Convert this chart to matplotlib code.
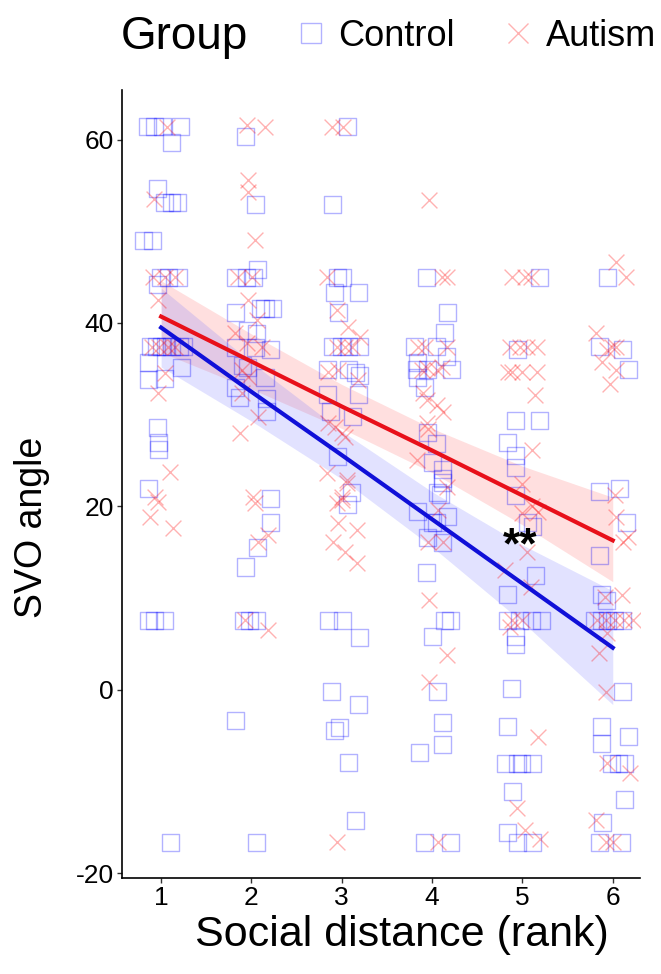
import matplotlib
matplotlib.use('Agg')
import matplotlib.pyplot as plt
from matplotlib.lines import Line2D

plt.rcParams['font.family'] = ['Liberation Sans', 'DejaVu Sans']
plt.rcParams['axes.unicode_minus'] = False

#
# jittered points: (rank + jitter, SVO angle)
#
control_x = [0.85, 0.93, 1.02, 1.21, 1.12, 0.96, 1.04, 1.12, 1.18, 0.80, 0.90, 0.99, 1.08, 1.19, 0.96,
             0.88, 0.95, 1.00, 1.05, 1.12, 1.20, 1.25, 0.86, 1.23, 1.04, 0.86, 0.96, 0.97, 0.97, 0.86,
             0.86, 0.93, 1.04, 1.10,
             1.93, 2.04, 2.07, 1.82, 1.95, 2.02, 2.10, 2.15, 2.23, 1.82, 1.96, 2.06, 1.82, 2.04, 2.21,
             1.90, 1.96, 2.15, 1.82, 1.87, 2.17, 2.17, 2.21, 2.21, 2.07, 1.93, 1.91, 1.98, 2.06, 1.82, 2.06,
             3.06, 2.90, 2.95, 3.01, 2.92, 3.18, 2.96, 2.90, 3.00, 3.07, 3.20, 2.84, 3.07, 3.15, 3.20,
             2.84, 3.18, 2.87, 3.12, 2.95, 3.11, 3.06, 2.85, 3.01, 3.20, 2.89, 3.18, 2.92, 2.98, 3.07, 3.15,
             3.94, 4.17, 4.14, 3.81, 4.05, 4.16, 3.84, 3.83, 3.95, 4.22, 3.84, 3.92, 3.95, 4.05, 4.00,
             4.12, 4.12, 4.06, 4.11, 4.09, 3.84, 4.17, 4.00, 4.05, 3.95, 4.12, 3.94, 4.14, 4.20, 4.00,
             4.06, 4.12, 3.86, 4.12, 3.92, 4.20,
             5.19, 4.95, 4.92, 5.19, 4.84, 4.92, 4.92, 4.92, 5.06, 5.11, 5.14, 4.83, 4.83, 4.97, 5.10,
             5.21, 4.92, 4.92, 4.88, 4.84, 4.81, 4.94, 4.99, 5.11, 4.89, 4.83, 4.95, 5.11,
             5.94, 5.85, 6.11, 6.17, 5.85, 6.08, 6.15, 5.85, 5.88, 5.93, 5.80, 5.88, 5.94, 6.02, 6.11,
             6.11, 5.88, 5.88, 6.17, 5.99, 6.06, 6.13, 6.13, 5.89, 5.85, 6.10]
control_y = [61.4, 61.4, 61.4, 61.4, 59.7, 54.7, 53.1, 53.1, 53.1, 49.0, 49.0, 45.0, 45.0, 45.0, 44.2,
             37.4, 37.4, 37.4, 37.4, 37.4, 37.4, 37.4, 35.7, 35.2, 34.0, 33.8, 28.6, 27.0, 26.2, 22.0,
             7.6, 7.6, 7.6, -16.6,
             60.3, 52.9, 45.8, 45.0, 45.0, 45.0, 41.6, 41.6, 41.6, 41.1, 39.2, 38.9, 37.3, 37.3, 37.1,
             35.4, 35.1, 34.1, 33.0, 31.9, 31.8, 30.3, 20.9, 18.2, 15.5, 13.4, 7.6, 7.6, 7.6, -3.3, -16.6,
             61.4, 52.9, 45.0, 45.0, 43.3, 43.3, 41.1, 37.4, 37.4, 37.4, 37.4, 34.9, 34.9, 34.6, 34.3,
             32.2, 32.2, 30.3, 29.8, 25.4, 21.5, 20.2, 7.6, 7.6, 5.7, -0.2, -1.6, -4.4, -4.1, -7.9, -14.2,
             45.0, 41.1, 39.0, 37.4, 37.4, 36.3, 35.7, 34.9, 34.9, 34.9, 34.1, 33.0, 28.1, 26.9, 24.8,
             24.0, 23.1, 21.5, 22.6, 21.3, 19.4, 18.9, 18.2, 18.2, 16.6, 16.1, 12.8, 7.6, 7.6, 5.8,
             -0.2, -3.6, -6.8, -6.0, -16.6, -16.6,
             45.0, 37.1, 29.4, 29.4, 27.0, 25.6, 24.2, 21.2, 18.3, 17.8, 12.5, 10.4, 7.6, 7.6, 7.6,
             7.6, 5.8, 4.9, 0.2, -4.0, -8.0, -8.0, -8.0, -8.0, -11.1, -15.5, -16.6, -16.6,
             45.0, 37.4, 37.1, 34.9, 21.6, 22.0, 18.2, 14.7, 10.4, 9.8, 7.6, 7.6, 7.6, 7.6, 7.6,
             -0.2, -4.0, -5.8, -5.1, -8.0, -8.0, -8.0, -12.0, -14.5, -16.6, -16.6]

autism_x = [1.07, 0.92, 0.91, 1.04, 1.15, 0.96, 0.90, 0.98, 1.08, 1.15, 1.04, 0.97, 1.10, 0.93, 0.96,
            0.88, 1.13,
            1.95, 2.15, 1.96, 1.96, 2.04, 1.85, 2.01, 1.96, 2.06, 1.82, 1.95, 2.12, 1.90, 1.96, 1.90,
            2.07, 1.87, 2.02, 2.04, 2.18, 2.07, 1.93, 2.18,
            2.89, 3.01, 2.84, 2.95, 3.07, 3.20, 2.95, 3.04, 3.11, 2.85, 2.96, 3.18, 2.85, 2.92, 3.00,
            3.04, 2.84, 3.06, 3.00, 3.06, 2.95, 3.00, 2.96, 3.17, 2.90, 3.04, 3.17, 2.95,
            3.97, 4.11, 4.16, 3.84, 3.92, 4.17, 3.89, 3.94, 4.05, 4.11, 3.90, 3.94, 4.05, 4.12, 3.94,
            3.95, 3.83, 4.17, 4.06, 3.95, 4.12, 3.97, 4.17, 3.97, 4.06,
            4.89, 5.03, 5.10, 4.86, 4.97, 5.05, 5.16, 4.84, 4.89, 5.00, 5.16, 5.14, 5.11, 4.99, 4.99,
            5.11, 5.17, 5.05, 4.81, 5.10, 4.88, 4.99, 4.86, 5.17, 4.94, 5.03, 5.19,
            6.04, 6.15, 5.82, 5.99, 6.04, 5.94, 5.88, 6.04, 5.97, 6.02, 6.04, 6.11, 6.17, 5.91, 6.10,
            5.83, 5.93, 6.02, 6.13, 6.22, 5.94, 5.85, 5.93, 5.94, 6.19, 5.82, 5.93, 6.00]
autism_y = [61.4, 53.5, 45.0, 45.0, 45.0, 42.5, 37.4, 37.4, 37.4, 37.4, 34.6, 32.4, 23.8, 21.0, 20.5,
            18.9, 17.7,
            61.6, 61.4, 55.6, 54.3, 49.0, 45.0, 45.0, 42.5, 40.3, 38.9, 37.8, 37.4, 34.9, 34.1, 32.4,
            29.8, 28.0, 21.0, 20.4, 16.9, 16.1, 7.6, 6.5,
            61.4, 61.4, 45.0, 41.4, 39.6, 38.5, 37.4, 37.4, 37.4, 34.7, 34.9, 33.8, 29.1, 28.7, 28.0,
            27.6, 23.7, 22.9, 21.0, 22.6, 20.4, 20.7, 18.2, 17.4, 16.1, 15.0, 13.8, -16.6,
            53.4, 45.0, 45.0, 37.4, 37.4, 37.4, 34.9, 35.1, 34.9, 35.2, 32.4, 31.6, 31.1, 30.3, 29.1,
            28.4, 25.1, 22.1, 19.6, 16.1, 16.1, 9.8, 3.8, 0.9, -16.6,
            45.0, 45.0, 45.0, 37.4, 37.4, 37.4, 37.4, 34.7, 34.7, 34.7, 34.7, 32.2, 26.2, 22.5, 19.3,
            20.0, 19.4, 15.0, 13.1, 11.2, 7.6, 7.6, 6.9, -5.1, -12.9, -15.3, -16.3,
            46.6, 45.0, 38.9, 37.4, 37.4, 37.1, 35.7, 34.9, 33.3, 21.2, 18.8, 16.1, 16.7, 10.1, 10.4,
            7.6, 7.6, 7.6, 7.6, 7.6, 6.2, 4.0, -0.2, -8.0, -9.1, -14.2, -16.6, -16.6]

#
# fitted lines and 95% bands read at each rank
#
fit_rank = [1, 2, 3, 4, 5, 6]
autism_fit = [40.7, 35.8, 30.9, 26.1, 21.2, 16.3]
autism_lo = [36.8, 32.8, 28.5, 23.7, 18.0, 11.8]
autism_hi = [44.6, 38.8, 33.3, 28.5, 24.4, 21.0]
control_fit = [39.5, 32.5, 25.6, 18.6, 11.6, 4.6]
control_lo = [35.2, 29.3, 23.0, 15.6, 7.4, -1.6]
control_hi = [43.8, 35.7, 28.2, 21.6, 15.8, 10.8]

blue = '#0000ff'
red = '#ff0000'

fig = plt.figure(figsize=(6.61, 9.74), dpi=100)
ax = fig.add_axes([0.185, 0.0986, 0.783, 0.809])

ax.fill_between(fit_rank, autism_lo, autism_hi, color='#ff7070', alpha=0.22, lw=0, zorder=1)
ax.fill_between(fit_rank, control_lo, control_hi, color='#7070ff', alpha=0.2, lw=0, zorder=1)

ax.scatter(control_x, control_y, marker='s', s=150, facecolors='none', edgecolors=blue,
           linewidths=1.0, alpha=0.3, zorder=2)
ax.scatter(autism_x, autism_y, marker='x', s=130, color=red, linewidths=1.0, alpha=0.3, zorder=2)

ax.plot(fit_rank, autism_fit, color='#e8101a', lw=3, zorder=3)
ax.plot(fit_rank, control_fit, color='#1010d8', lw=3, zorder=3)

ax.text(4.97, 15.6, '**', fontsize=32, fontweight='bold', ha='center', va='center', zorder=4)

ax.set_xlim(0.57, 6.3)
ax.set_ylim(-20.5, 65.4)
ax.set_xticks([1, 2, 3, 4, 5, 6])
ax.set_yticks([-20, 0, 20, 40, 60])
ax.tick_params(labelsize=19, length=3.6, pad=2.5, width=1, color='#333333', labelcolor='black')
for s in ['top', 'right']:
    ax.spines[s].set_visible(False)
for s in ['left', 'bottom']:
    ax.spines[s].set_linewidth(1.2)
ax.set_xlabel('Social distance (rank)', fontsize=31)
ax.xaxis.set_label_coords(0.54, -0.047)
ax.set_ylabel('SVO angle', fontsize=27)
ax.yaxis.set_label_coords(-0.14, 0.445)

# legend across the top
fig.text(0.183, 0.962, 'Group', fontsize=33, ha='left', va='center')
handles = [Line2D([], [], marker='s', ls='none', markersize=15, markerfacecolor='none',
                  markeredgecolor=blue, alpha=0.3, markeredgewidth=1.0),
           Line2D([], [], marker='x', ls='none', markersize=15, color=red, alpha=0.3,
                  markeredgewidth=1.0)]
fig.legend(handles, ['Control', 'Autism'], loc='center left', bbox_to_anchor=(0.4425, 0.963),
           ncol=2, frameon=False, fontsize=26, handletextpad=0.35, columnspacing=1.38,
           handlelength=0.8, borderpad=0.1, borderaxespad=0)

plt.savefig('out.png')
plt.close()
